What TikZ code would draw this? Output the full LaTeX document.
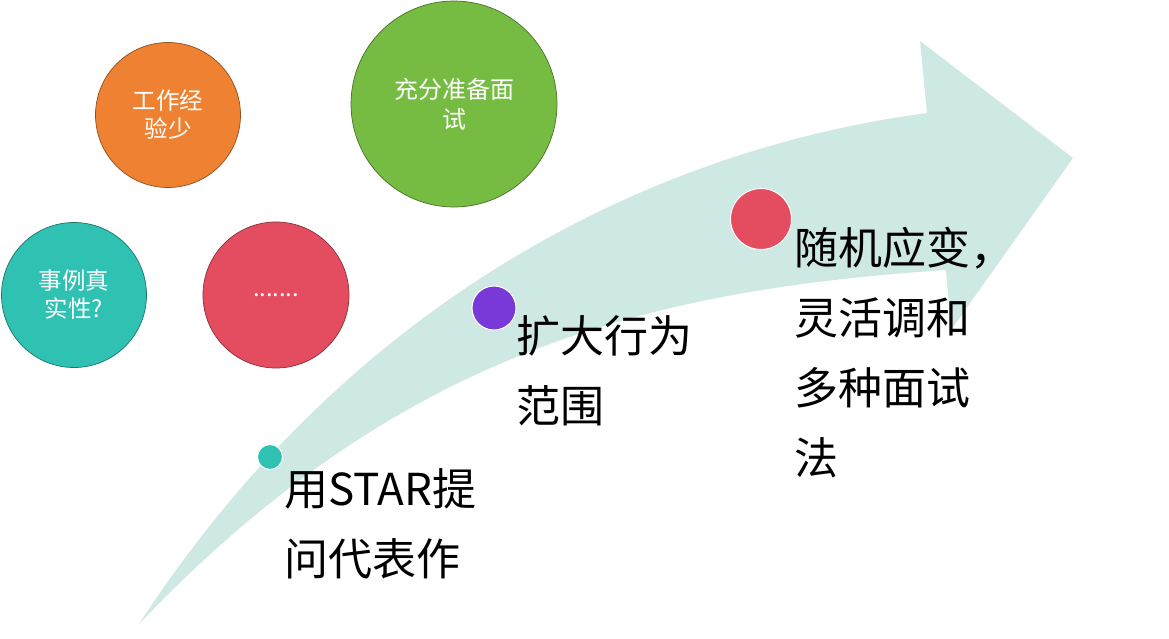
\documentclass[tikz,border=0pt]{standalone}
\usepackage{fontspec}
\setmainfont{Noto Sans CJK SC}
\definecolor{arrowc}{RGB}{206,232,228}
\definecolor{orangec}{RGB}{238,130,50}
\definecolor{greenc}{RGB}{118,188,67}
\definecolor{tealc}{RGB}{47,193,178}
\definecolor{redc}{RGB}{228,77,96}
\definecolor{purplec}{RGB}{121,57,216}
\begin{document}
\begin{tikzpicture}[x=1pt,y=-1pt,
  bigcirc/.style={circle,draw=#1!60!black,line width=0.7pt,fill=#1,text=white,align=center,inner sep=0pt},
  smalltxt/.style={font=\fontsize{23.5}{28}\selectfont},
  dotc/.style={circle,fill=#1,draw=white,line width=1pt,inner sep=0pt},
  label/.style={anchor=north west,align=left,inner sep=0pt,font=\fontsize{44}{70}\selectfont}]
\useasboundingbox (0,0) rectangle (1169,638);
% arrow
\fill[arrowc] (139,624) .. controls (350,300) and (650,150) .. (927,113)
  -- (920,41) -- (1073,158) -- (951,330) -- (946,270)
  .. controls (650,290) and (400,350) .. (139,624) -- cycle;
% circles
\node[bigcirc=orangec,minimum size=145pt,smalltxt] (c1) at (168,115) {工作经\\验少};
\node[bigcirc=tealc,minimum size=145pt,smalltxt] (c2) at (74,295) {事例真\\实性?};
\node[bigcirc=redc,minimum size=146pt,smalltxt] (c3) at (276,295) {.......};
\node[bigcirc=greenc,minimum size=206pt,font=\fontsize{24}{30}\selectfont] (c4) at (454,104) {充分准备面\\试};
% dots
\node[dotc=tealc,minimum size=25pt] (d1) at (270,457) {};
\node[dotc=purplec,minimum size=44pt] (d2) at (494,308) {};
\node[dotc=redc,minimum size=61pt] (d3) at (761,219) {};
% labels
\node[label] (t1) at (284,468) {用STAR提\\问代表作};
\node[label] (t2) at (516,315) {扩大行为\\范围};
\node[label] (t3) at (794,227) {随机应变，\\灵活调和\\多种面试\\法};
\end{tikzpicture}
\end{document}
